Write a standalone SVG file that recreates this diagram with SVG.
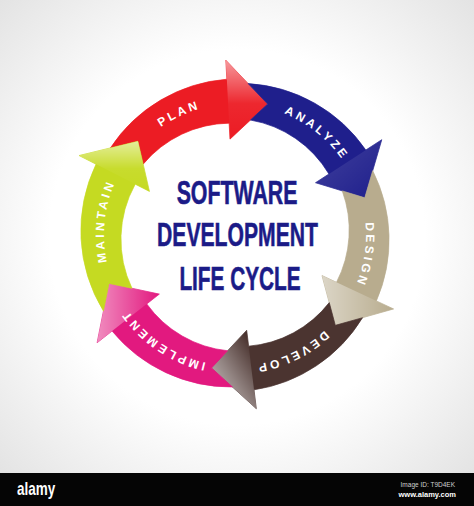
<svg xmlns="http://www.w3.org/2000/svg" width="474" height="506" viewBox="0 0 474 506">
<defs>
  <radialGradient id="bg" cx="0.5" cy="0.5" r="0.72">
    <stop offset="0.55" stop-color="#ffffff"/>
    <stop offset="1" stop-color="#e2e2e2"/>
  </radialGradient>
  <linearGradient id="glossTop" x1="0" y1="0" x2="0" y2="1">
    <stop offset="0" stop-color="#fff" stop-opacity="0.55"/>
    <stop offset="0.55" stop-color="#fff" stop-opacity="0.05"/>
    <stop offset="1" stop-color="#fff" stop-opacity="0"/>
  </linearGradient>
  <linearGradient id="glossLeft" x1="0" y1="0.5" x2="1" y2="0.5">
    <stop offset="0" stop-color="#fff" stop-opacity="0.5"/>
    <stop offset="1" stop-color="#fff" stop-opacity="0"/>
  </linearGradient>
  <linearGradient id="glossSilver" x1="0" y1="1" x2="0.8" y2="0.1">
    <stop offset="0" stop-color="#fff" stop-opacity="0.75"/>
    <stop offset="0.5" stop-color="#fff" stop-opacity="0.4"/>
    <stop offset="1" stop-color="#fff" stop-opacity="0"/>
  </linearGradient>
  <linearGradient id="glossSoft" x1="0" y1="0" x2="1" y2="1">
    <stop offset="0" stop-color="#fff" stop-opacity="0.15"/>
    <stop offset="1" stop-color="#fff" stop-opacity="0"/>
  </linearGradient>
  <path id="ring" d="M114.46,291.21 A133,133 0 1,1 355.54,178.79 A133,133 0 1,1 114.46,291.21"/>
</defs>
<style>
  .arrow{stroke-width:0.7;stroke-linejoin:round}
  .lbl{font-family:"Liberation Sans",Arial,sans-serif;font-weight:bold;font-size:12px;fill:#ffffff;letter-spacing:3.2px}
  .title{font-family:"Liberation Sans",Arial,sans-serif;font-weight:bold;font-size:33px;fill:#1b1b87;stroke:#1b1b87;stroke-width:0.6}
  .hl{stroke:none}
</style>

<rect x="0" y="0" width="474" height="474" fill="url(#bg)"/>

<g id="cycle">
  <g id="plan">
    <path class="arrow" fill="#ec1c24" stroke="#ec1c24" d="M110.42,147.91 A154,154 0 0,1 226.83,79.21 L225.84,60.24 L267.66,104.01 L229.98,139.13 L229.14,123.15 A114,114 0 0,0 143.17,164.13 L137.89,141.22 Z"/>
    <polygon class="hl" fill="url(#glossTop)" points="225.84,60.24 267.66,104.01 229.98,139.13"/>
    <text class="lbl" dy="2"><textPath href="#ring" startOffset="209.4" text-anchor="middle">PLAN</textPath></text>
  </g>
  <g id="analyze">
    <path class="arrow" fill="#1f1f8c" stroke="#1f1f8c" d="M248.13,83.57 A154,154 0 0,1 365.83,150.04 L381.77,139.69 L364.77,197.79 L315.51,182.71 L328.93,174.00 A114,114 0 0,0 250.47,120.04 L267.66,104.01 Z"/>
    <polygon class="hl" fill="url(#glossSoft)" points="381.77,139.69 364.77,197.79 315.51,182.71"/>
    <text class="lbl" dy="2"><textPath href="#ring" startOffset="356.8" text-anchor="middle">ANALYZE</textPath></text>
  </g>
  <g id="design">
    <path class="arrow" fill="#b8ac8e" stroke="#b8ac8e" d="M372.71,170.66 A154,154 0 0,1 376.38,300.93 L393.60,308.96 L335.32,325.33 L322.01,275.57 L336.51,282.33 A114,114 0 0,0 342.29,190.91 L364.77,197.79 Z"/>
    <polygon class="hl" fill="url(#glossLeft)" points="393.60,308.96 335.32,325.33 322.01,275.57"/>
    <text class="lbl" dy="2"><textPath href="#ring" startOffset="495.6" text-anchor="middle">DESIGN</textPath></text>
  </g>
  <g id="develop">
    <path class="arrow" fill="#4b3430" stroke="#4b3430" d="M362.54,317.69 A154,154 0 0,1 254.01,389.84 L256.33,408.70 L211.56,367.95 L246.70,330.28 L248.65,346.17 A114,114 0 0,0 329.25,302.62 L335.32,325.33 Z"/>
    <polygon class="hl" fill="url(#glossSilver)" points="256.33,408.70 211.56,367.95 246.70,330.28"/>
    <text class="lbl" dy="2"><textPath href="#ring" startOffset="624" text-anchor="middle">DEVELOP</textPath></text>
  </g>
  <g id="implement">
    <path class="arrow" fill="#e2197f" stroke="#e2197f" d="M232.47,386.98 A154,154 0 0,1 112.07,331.04 L97.10,342.74 L108.97,283.38 L159.35,294.10 L146.74,303.95 A114,114 0 0,0 227.59,350.76 L211.56,367.95 Z"/>
    <polygon class="hl" fill="url(#glossLeft)" points="97.10,342.74 108.97,283.38 159.35,294.10"/>
    <text class="lbl" dy="2"><textPath href="#ring" startOffset="763.7" text-anchor="middle">IMPLEMENT</textPath></text>
  </g>
  <g id="maintain">
    <path class="arrow" fill="#c5da22" stroke="#c5da22" d="M103.43,311.10 A154,154 0 0,1 96.00,164.18 L79.07,155.55 L137.89,141.22 L149.46,191.42 L135.21,184.15 A114,114 0 0,0 131.96,288.27 L108.97,283.38 Z"/>
    <polygon class="hl" fill="url(#glossTop)" points="79.07,155.55 137.89,141.22 149.46,191.42"/>
    <text class="lbl" dy="2"><textPath href="#ring" startOffset="72" text-anchor="middle">MAINTAIN</textPath></text>
  </g>
</g>

<g id="title">
  <text class="title" transform="translate(237,204) scale(0.646,1)" text-anchor="middle">SOFTWARE</text>
  <text class="title" transform="translate(237.5,246) scale(0.641,1)" text-anchor="middle">DEVELOPMENT</text>
  <text class="title" transform="translate(240,290) scale(0.63,1)" text-anchor="middle">LIFE CYCLE</text>
</g>

<g id="footer">
  <rect x="0" y="473" width="474" height="33" fill="#050505"/>
  <text transform="translate(17,495) scale(0.75,1)" font-family="'Liberation Sans',Arial,sans-serif" font-weight="bold" font-size="18" fill="#ffffff">alamy</text>
  <text x="455" y="487" text-anchor="end" font-family="'Liberation Sans',Arial,sans-serif" font-size="6.5" fill="#cfcfcf">Image ID: T9D4EK</text>
  <text x="456" y="497" text-anchor="end" font-family="'Liberation Sans',Arial,sans-serif" font-weight="bold" font-size="7.5" fill="#ffffff">www.alamy.com</text>
</g>
</svg>
